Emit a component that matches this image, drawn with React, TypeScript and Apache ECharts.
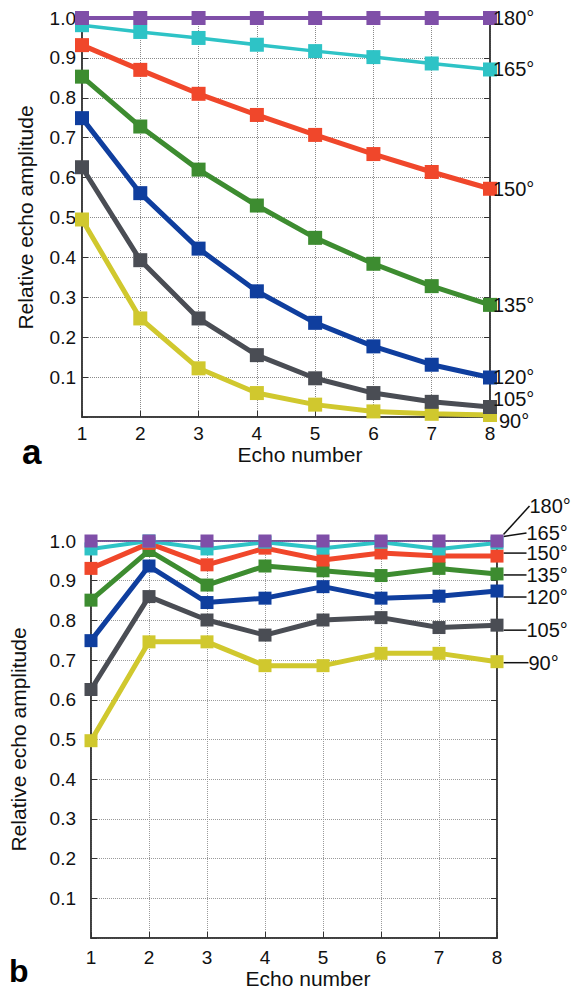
import React, { useEffect, useRef } from "react";
import * as echarts from "echarts";

// Echo numbers (x axis)
const echoNumbers = [1, 2, 3, 4, 5, 6, 7, 8];
// Angle labels, top to bottom
const angleLabels = ["180°", "165°", "150°", "135°", "120°", "105°", "90°"];
const angleColors = ["#7f4fa8", "#2ec3c6", "#f0472b", "#3d8c30", "#0f3e9e", "#4a4d54", "#d0c82e"];

// Panel a values
const a180 = [1.0, 1.0, 1.0, 1.0, 1.0, 1.0, 1.0, 1.0];
const a165 = [0.982, 0.965, 0.95, 0.933, 0.917, 0.902, 0.886, 0.871];
const a150 = [0.932, 0.87, 0.81, 0.757, 0.707, 0.659, 0.614, 0.572];
const a135 = [0.853, 0.728, 0.62, 0.53, 0.449, 0.384, 0.328, 0.281];
const a120 = [0.749, 0.561, 0.422, 0.315, 0.236, 0.177, 0.131, 0.099];
const a105 = [0.626, 0.393, 0.247, 0.155, 0.097, 0.06, 0.038, 0.025];
const a90 = [0.495, 0.247, 0.122, 0.06, 0.031, 0.014, 0.008, 0.005];

// Panel b values
const b180 = [1.0, 1.0, 1.0, 1.0, 1.0, 1.0, 1.0, 1.0];
const b165 = [0.98, 1.0, 0.98, 0.997, 0.982, 0.997, 0.98, 0.995];
const b150 = [0.931, 0.994, 0.94, 0.982, 0.952, 0.97, 0.962, 0.962];
const b135 = [0.851, 0.976, 0.889, 0.937, 0.925, 0.913, 0.931, 0.917];
const b120 = [0.749, 0.937, 0.845, 0.856, 0.885, 0.856, 0.861, 0.874];
const b105 = [0.626, 0.86, 0.801, 0.763, 0.801, 0.807, 0.782, 0.788];
const b90 = [0.497, 0.746, 0.746, 0.686, 0.686, 0.717, 0.717, 0.696];

const yTicks = [0.1, 0.2, 0.3, 0.4, 0.5, 0.6, 0.7, 0.8, 0.9, 1.0];

const panelA = [a180, a165, a150, a135, a120, a105, a90];
const panelB = [b180, b165, b150, b135, b120, b105, b90];

const FONT = "'Liberation Sans', Arial, Helvetica, sans-serif";

export default function App() {
  const ref = useRef<HTMLDivElement>(null);
  useEffect(() => {
    if (!ref.current) return;
    const chart = echarts.init(ref.current, null, { renderer: "svg" });

    const widthsA = [4, 3.5, 5, 5, 5, 5, 5];
    const widthsB = [1.5, 4, 5, 5, 5, 5, 5];
    const offA: [number, number][] = [[0, 0], [0, 0], [0, 0], [0, 0], [0, 0], [0, -8], [6, 6]];
    const dyB = [-35, -10, -3, 1, 6, 5, 1];
    const dxB = [21, 18, 18, 18, 18, 18, 20];

    const labelText = {
      fontFamily: FONT,
      fontSize: 20,
      lineHeight: 18,
      color: "#111",
    };

    const series: any[] = [];
    // draw bottom-most first so purple sits on top
    for (let i = angleLabels.length - 1; i >= 0; i--) {
      const vals = panelA[i];
      series.push({
        type: "line",
        xAxisIndex: 0,
        yAxisIndex: 0,
        name: "a" + angleLabels[i],
        symbol: "rect",
        symbolSize: 14,
        z: 10 + (angleLabels.length - i),
        lineStyle: { color: angleColors[i], width: widthsA[i] },
        itemStyle: { color: angleColors[i] },
        data: vals.map((v, k) =>
          k === vals.length - 1
            ? {
                value: [echoNumbers[k], v],
                label: {
                  show: true,
                  position: "right",
                  distance: -4,
                  offset: offA[i],
                  formatter: angleLabels[i],
                  ...labelText,
                },
              }
            : [echoNumbers[k], v]
        ),
      });
    }
    for (let i = angleLabels.length - 1; i >= 0; i--) {
      const vals = panelB[i];
      series.push({
        type: "line",
        xAxisIndex: 1,
        yAxisIndex: 1,
        name: "b" + angleLabels[i],
        symbol: "rect",
        symbolSize: 13,
        z: 10 + (angleLabels.length - i),
        lineStyle: { color: angleColors[i], width: widthsB[i] },
        itemStyle: { color: angleColors[i] },
        labelLayout: { dx: dxB[i], dy: dyB[i] },
        labelLine: { show: true, lineStyle: { color: "#111", width: 1.5 } },
        data: vals.map((v, k) =>
          k === vals.length - 1
            ? {
                value: [echoNumbers[k], v],
                label: {
                  show: true,
                  position: "right",
                  distance: 5,
                  formatter: angleLabels[i],
                  ...labelText,
                },
              }
            : [echoNumbers[k], v]
        ),
      });
    }

    const xAxisBase = (gridIndex: number, margin: number, gap: number, dotted: string) => ({
      type: "value",
      gridIndex,
      min: 1,
      max: 8,
      interval: 1,
      name: "Echo number",
      nameLocation: "middle",
      nameGap: gap,
      nameTextStyle: { fontFamily: FONT, fontSize: 21, color: "#111", padding: [0, 0, 0, 28] },
      axisLine: { show: true, lineStyle: { color: "#333", width: 1.5 } },
      axisTick: { show: true, inside: true, length: 6, lineStyle: { color: "#333" } },
      axisLabel: {
        margin,
        fontFamily: FONT,
        fontSize: 19,
        color: "#111",
        formatter: (v: number) => String(v),
      },
      splitLine: { show: true, lineStyle: { color: dotted, type: "dotted", width: 1 } },
    });

    const yAxisLeft = (gridIndex: number, margin: number, gap: number, dotted: string) => ({
      type: "value",
      gridIndex,
      min: 0,
      max: 1,
      interval: 0.1,
      name: "Relative echo amplitude",
      nameLocation: "middle",
      nameGap: gap,
      nameTextStyle: { fontFamily: FONT, fontSize: 21, color: "#111" },
      axisLine: { show: true, lineStyle: { color: "#333", width: 1.5 } },
      axisTick: { show: true, inside: true, length: 6, lineStyle: { color: "#333" } },
      axisLabel: {
        margin,
        fontFamily: FONT,
        fontSize: 19,
        color: "#111",
        formatter: (v: number) => (yTicks.some((t) => Math.abs(t - v) < 1e-6) ? v.toFixed(1) : ""),
      },
      splitLine: { show: true, lineStyle: { color: dotted, type: "dotted", width: 1 } },
    });

    const yAxisRight = (gridIndex: number) => ({
      type: "value",
      gridIndex,
      position: "right",
      min: 0,
      max: 1,
      interval: 0.1,
      axisLine: { show: true, lineStyle: { color: "#333", width: 1.5 } },
      axisTick: { show: true, inside: true, length: 6, lineStyle: { color: "#333" } },
      axisLabel: { show: false },
      splitLine: { show: false },
    });

    chart.setOption({
      animation: false,
      backgroundColor: "#ffffff",
      grid: [
        { left: 82, top: 18, width: 408, height: 399, show: true, borderColor: "#333", borderWidth: 1.5 },
        { left: 86, top: 541, width: 411, height: 397, show: true, borderColor: "#333", borderWidth: 1.5 },
      ],
      xAxis: [xAxisBase(0, 7, 25, "#8a8a8a"), xAxisBase(1, 10, 28, "#9a9a9a")],
      yAxis: [yAxisLeft(0, 6, 46, "#8a8a8a"), yAxisLeft(1, 15, 62, "#9a9a9a"), yAxisRight(0), yAxisRight(1)],
      series,
      graphic: [
        {
          type: "text",
          left: 22,
          top: 434,
          style: { text: "a", font: `bold 35px ${FONT}`, fill: "#000" },
        },
        {
          type: "text",
          left: 9,
          top: 955,
          style: { text: "b", font: `bold 32px ${FONT}`, fill: "#000" },
        },
      ],
    });

    return () => chart.dispose();
  }, []);

  return (
    <div
      ref={ref}
      style={{ position: "absolute", left: 0, top: 0, width: 573, height: 991, background: "#fff" }}
    />
  );
}
